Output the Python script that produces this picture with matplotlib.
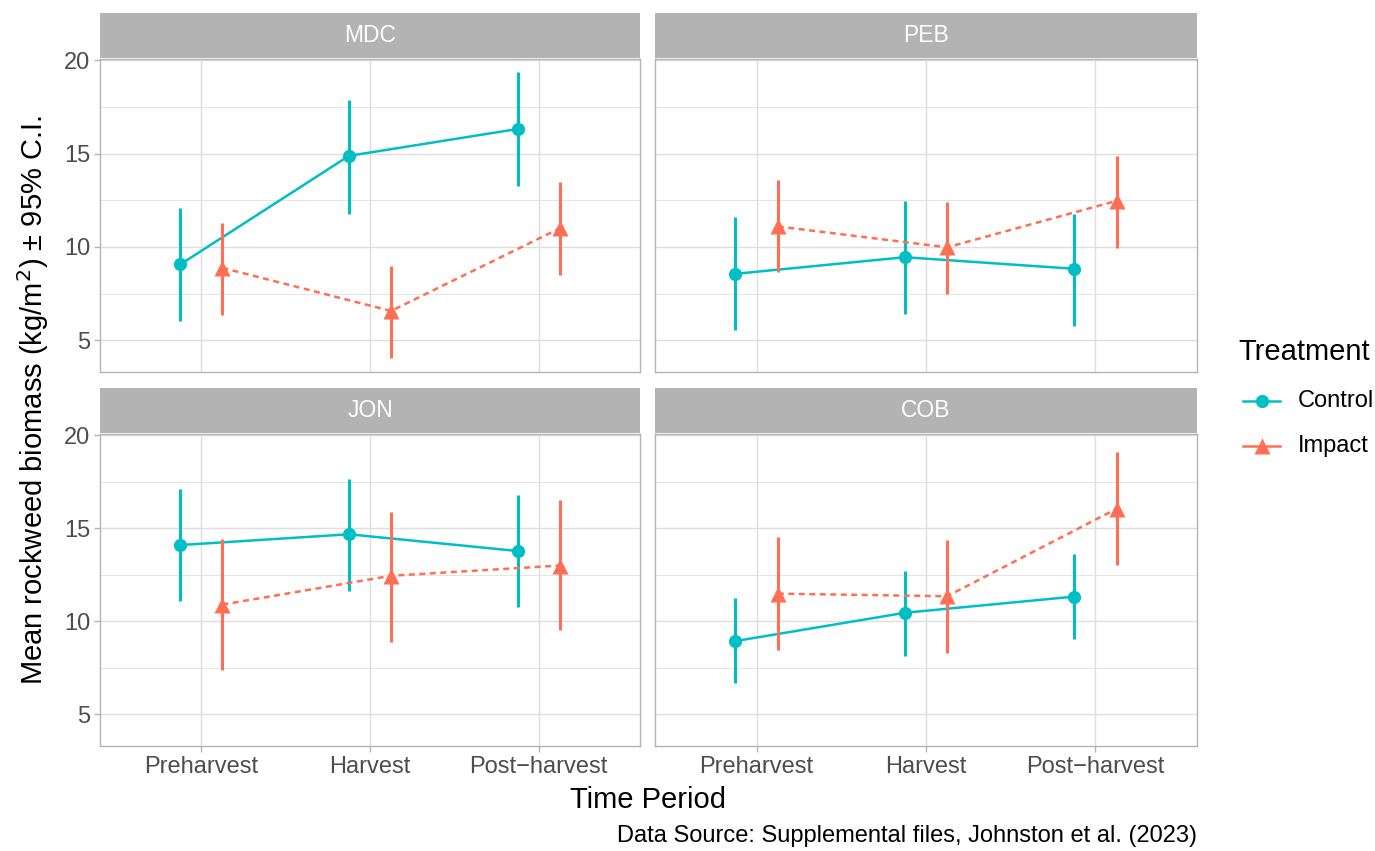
import numpy as np
import matplotlib
matplotlib.use("Agg")
import matplotlib.pyplot as plt
from matplotlib.lines import Line2D

plt.rcParams['font.family'] = ['Liberation Sans', 'DejaVu Sans']

#%% Data
sites   = ["MDC", "PEB", "JON", "COB"]
periods = ["Preharvest", "Harvest", "Post\u2212harvest"]
treatments = ["Control", "Impact"]

ctrl_mean = {"MDC": [9.06, 14.88, 16.32], "PEB": [8.56, 9.45, 8.83],
             "JON": [14.10, 14.68, 13.78], "COB": [8.94, 10.46, 11.33]}
ctrl_lo   = {"MDC": [6.03, 11.78, 13.29], "PEB": [5.53, 6.39, 5.77],
             "JON": [11.08, 11.61, 10.76], "COB": [6.67, 8.15, 9.04]}
ctrl_hi   = {"MDC": [12.08, 17.86, 19.36], "PEB": [11.62, 12.47, 11.78],
             "JON": [17.13, 17.66, 16.81], "COB": [11.24, 12.73, 13.62]}

imp_mean  = {"MDC": [8.88, 6.57, 11.00], "PEB": [11.10, 9.98, 12.47],
             "JON": [10.90, 12.45, 13.00], "COB": [11.49, 11.35, 16.05]}
imp_lo    = {"MDC": [6.33, 4.06, 8.52], "PEB": [8.65, 7.46, 9.93],
             "JON": [7.41, 8.90, 9.54], "COB": [8.47, 8.31, 13.05]}
imp_hi    = {"MDC": [11.30, 9.00, 13.49], "PEB": [13.59, 12.42, 14.88],
             "JON": [14.41, 15.90, 16.54], "COB": [14.52, 14.36, 19.10]}

yticks = [5, 10, 15, 20]

#%% Style
C_CTRL = "#00BFC4"
C_IMP  = "#FF6E55"
GRAY70 = "#B3B3B3"
GRID   = "#DEDEDE"
TXT    = "#4D4D4D"
DODGE  = 0.125
LW_LINE = 1.8
LW_BAR  = 2.2
MS_C, MS_I = 9.5, 11.5

W, H = 1375, 851
fig = plt.figure(figsize=(W/100, H/100), dpi=100)

def fx(px): return px / W
def fy(py): return 1 - py / H

# panel pixel boxes
cols = [(100, 640), (655, 1197)]
rows = [(59, 372), (434, 746)]
strips = [(13, 58), (388, 433)]

x = np.arange(len(periods))

for k, site in enumerate(sites):
    r, c = divmod(k, 2)
    l, rr = cols[c]
    t, b = rows[r]
    ax = fig.add_axes([fx(l), fy(b), fx(rr - l), (b - t) / H])

    ax.set_xlim(-0.6, 2.6)
    ax.set_ylim(3.3, 20.07)
    ax.set_yticks(yticks)
    ax.set_yticks([7.5, 12.5, 17.5], minor=True)
    ax.set_xticks(x)
    ax.grid(True, which='major', color=GRID, lw=1.0, zorder=0)
    ax.grid(True, which='minor', axis='y', color=GRID, lw=0.55, zorder=0)
    ax.set_axisbelow(True)
    for s in ax.spines.values():
        s.set_color(GRAY70)
        s.set_linewidth(1.0)
    ax.tick_params(which='minor', length=0)
    ax.tick_params(which='major', color=GRAY70, length=4, width=1.0,
                   labelcolor=TXT, labelsize=17, pad=3)

    if c == 0:
        ax.set_yticklabels([str(v) for v in yticks])
    else:
        ax.tick_params(axis='y', which='major', length=0, labelleft=False)
    if r == 1:
        ax.set_xticklabels(periods)
    else:
        ax.tick_params(axis='x', which='major', length=0, labelbottom=False)

    # control
    xc = x - DODGE
    cm = np.array(ctrl_mean[site])
    ax.vlines(xc, ctrl_lo[site], ctrl_hi[site], color=C_CTRL, lw=LW_BAR, zorder=3)
    ax.plot(xc, cm, color=C_CTRL, lw=LW_LINE, zorder=3)
    ax.plot(xc, cm, 'o', color=C_CTRL, ms=MS_C, mec='none', zorder=4)

    # impact
    xi = x + DODGE
    im = np.array(imp_mean[site])
    ax.vlines(xi, imp_lo[site], imp_hi[site], color=C_IMP, lw=LW_BAR, zorder=3)
    ax.plot(xi, im, color=C_IMP, lw=LW_LINE, ls=(0, (2.4, 1.8)), zorder=3)
    ax.plot(xi, im, '^', color=C_IMP, ms=MS_I, mec='none', zorder=4)

    # strip
    st, sb = strips[r]
    sax = fig.add_axes([fx(l), fy(sb), fx(rr - l), (sb - st) / H])
    sax.set_facecolor(GRAY70)
    sax.set_xticks([]); sax.set_yticks([])
    for s in sax.spines.values():
        s.set_visible(False)
    sax.text(0.5, 0.5, site, color='white', fontsize=16.5,
             ha='center', va='center', transform=sax.transAxes)

#%% Titles and caption
fig.text(fx(33), fy(400), "Mean rockweed biomass (kg/m$^2$) \u00b1 95% C.I.",
         rotation=90, ha='center', va='center', fontsize=21)
fig.text(fx(648), fy(800), "Time Period", ha='center', va='center', fontsize=21)
fig.text(fx(1197), fy(836), "Data Source: Supplemental files, Johnston et al. (2023)",
         ha='right', va='center', fontsize=17)

#%% Legend (drawn by hand to match the key placement)
fig.text(fx(1238), fy(352), "Treatment", ha='left', va='center', fontsize=21)
leg_y = [401, 446]
leg_style = [(C_CTRL, 'o', MS_C), (C_IMP, '^', MS_I)]
for lab, ly, (col, mk, ms) in zip(treatments, leg_y, leg_style):
    fig.add_artist(Line2D([fx(1243), fx(1280)], [fy(ly), fy(ly)],
                          color=col, lw=LW_LINE, transform=fig.transFigure))
    fig.add_artist(Line2D([fx(1261.5)], [fy(ly)], color=col, marker=mk, ms=ms,
                          mec='none', ls='none', transform=fig.transFigure))
    fig.text(fx(1298), fy(ly), lab, ha='left', va='center', fontsize=17)

fig.savefig("out.png", dpi=100)
